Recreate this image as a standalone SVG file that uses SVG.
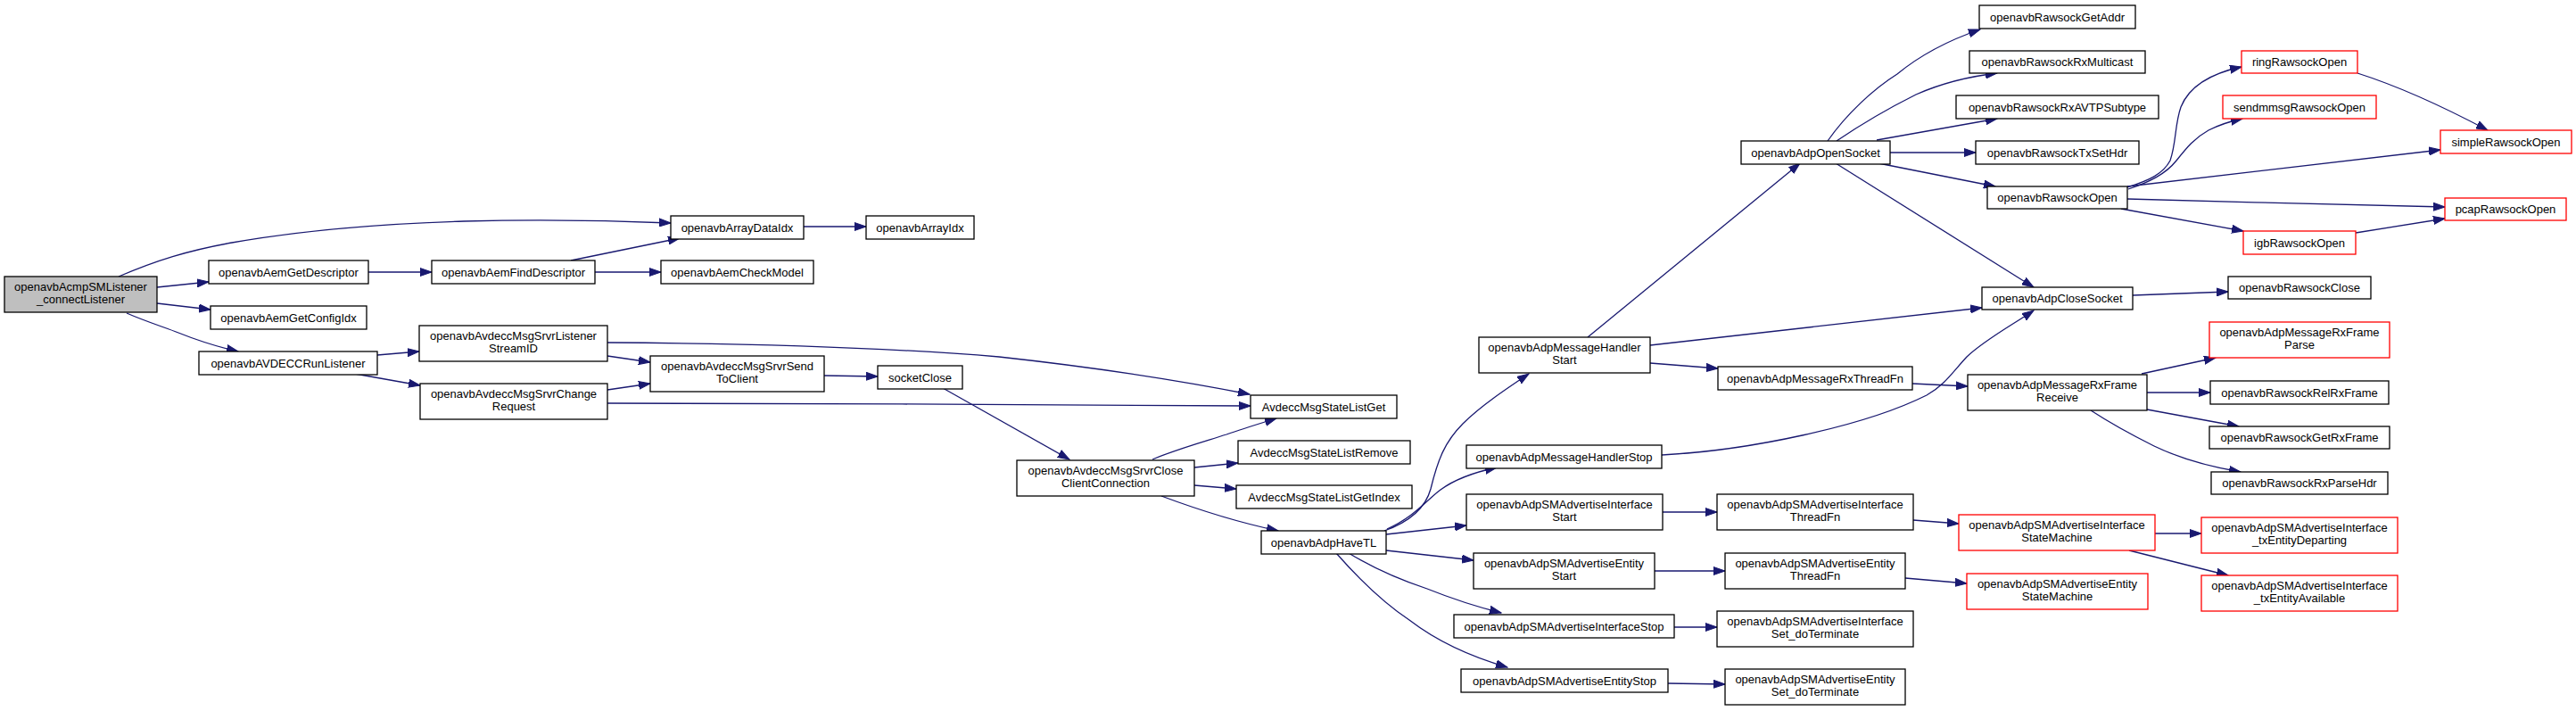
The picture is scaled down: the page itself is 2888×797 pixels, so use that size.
<svg xmlns="http://www.w3.org/2000/svg" width="2888" height="797" viewBox="0 0 2888 797">
<style>
.node rect{fill:#fff;stroke:#000;stroke-width:1.3}
.node.red rect{stroke:#ff0000}
.node.root rect{fill:#bfbfbf}
text{font-family:"Liberation Sans",Arial,sans-serif;font-size:13px;text-anchor:middle;fill:#000}
.edges path{fill:none;stroke:#191970;stroke-width:1.3;marker-end:url(#arr)}
</style>
<defs>
<marker id="arr" markerUnits="userSpaceOnUse" markerWidth="14" markerHeight="10" viewBox="0 0 14 10" refX="13" refY="5" orient="auto"><path d="M0,0.5 L13,5 L0,9.5 z" fill="#191970" stroke="#191970" stroke-width="1"/></marker>
</defs>
<rect width="2888" height="797" fill="#fff"/>
<g class="edges">
<path d="M133,310 C175,292 210,281 260,272 C340,258 420,251 520,248 C600,246 680,247 752,250"/>
<path d="M176,322 L234,316"/>
<path d="M176,340 L236,347"/>
<path d="M142,351 C165,361 185,367 200,373 C225,383 245,389 267,394"/>
<path d="M413,305 L484,305"/>
<path d="M640,292 L762,267"/>
<path d="M667,305 L741,305"/>
<path d="M901,254 L971,254"/>
<path d="M423,398 L470,394"/>
<path d="M398,419 L471,432"/>
<path d="M681,384 C850,385 1000,390 1120,400 C1230,412 1330,428 1401,442"/>
<path d="M681,399 L729,406"/>
<path d="M681,437 L729,430"/>
<path d="M681,452 C900,452 1200,454 1402,455"/>
<path d="M924,421 L984,422"/>
<path d="M1057,435 L1199,515"/>
<path d="M1292,515 C1320,503 1350,495 1375,487 C1395,480 1415,474 1431,469"/>
<path d="M1339,524 L1388,519"/>
<path d="M1339,544 L1386,548"/>
<path d="M1302,556 C1345,572 1390,586 1433,595"/>
<path d="M1552,595 C1580,585 1598,570 1604,548 C1612,515 1620,495 1640,475 C1660,455 1690,435 1714,419"/>
<path d="M1555,593 C1585,580 1600,560 1615,549 C1630,538 1650,530 1678,524"/>
<path d="M1554,599 L1644,589"/>
<path d="M1554,617 L1652,628"/>
<path d="M1512,620 C1540,637 1570,650 1600,660 C1625,670 1655,680 1683,687"/>
<path d="M1498,620 C1520,645 1550,675 1580,695 C1610,718 1645,735 1690,748"/>
<path d="M1780,378 L2018,183"/>
<path d="M1850,387 L2222,345"/>
<path d="M1850,407 L1926,413"/>
<path d="M1863,510 C1960,505 2090,478 2160,443 C2180,432 2190,416 2205,400 C2225,381 2255,365 2280,348"/>
<path d="M2049,158 C2070,128 2100,100 2127,83 C2155,60 2185,45 2220,33"/>
<path d="M2059,158 C2090,137 2120,120 2148,106 C2175,94 2205,86 2239,82"/>
<path d="M2104,157 L2239,133"/>
<path d="M2119,171 L2215,171"/>
<path d="M2106,183 L2237,209"/>
<path d="M2058,183 L2280,322"/>
<path d="M2385,210 C2410,202 2425,195 2433,180 C2440,160 2438,140 2445,120 C2455,95 2480,82 2513,75"/>
<path d="M2386,212 C2410,204 2428,195 2440,180 C2452,165 2460,155 2476,146 C2488,140 2500,136 2514,133"/>
<path d="M2385,209 L2736,168"/>
<path d="M2385,223 C2500,226 2640,230 2741,232"/>
<path d="M2378,234 L2515,259"/>
<path d="M2643,82 C2690,97 2740,120 2789,146"/>
<path d="M2641,261 L2741,245"/>
<path d="M2391,331 L2498,327"/>
<path d="M2144,430 L2206,433"/>
<path d="M2401,419 L2484,401"/>
<path d="M2407,440 L2478,440"/>
<path d="M2407,459 L2510,478"/>
<path d="M2344,460 C2370,477 2395,490 2415,500 C2440,512 2470,522 2512,529"/>
<path d="M1864,574 L1925,574"/>
<path d="M2145,583 L2196,587"/>
<path d="M1855,640 L1934,640"/>
<path d="M2136,648 L2205,654"/>
<path d="M2416,598 L2468,598"/>
<path d="M2387,617 L2498,645"/>
<path d="M1877,703 L1925,703"/>
<path d="M1870,766 L1934,767"/>
</g>
<g id="n1" class="node root"><rect x="5" y="310" width="171" height="40"/><text x="90.5" y="325.5">openavbAcmpSMListener</text><text x="90.5" y="340">_connectListener</text></g>
<g id="n2" class="node"><rect x="234" y="292" width="179" height="26"/><text x="323.5" y="309.5">openavbAemGetDescriptor</text></g>
<g id="n3" class="node"><rect x="236" y="343" width="175" height="26"/><text x="323.5" y="360.5">openavbAemGetConfigIdx</text></g>
<g id="n4" class="node"><rect x="223" y="394" width="200" height="26"/><text x="323" y="411.5">openavbAVDECCRunListener</text></g>
<g id="n5" class="node"><rect x="484" y="292" width="183" height="26"/><text x="575.5" y="309.5">openavbAemFindDescriptor</text></g>
<g id="n6" class="node"><rect x="470" y="365" width="211" height="40"/><text x="575.5" y="380.5">openavbAvdeccMsgSrvrListener</text><text x="575.5" y="395">StreamID</text></g>
<g id="n7" class="node"><rect x="471" y="430" width="210" height="40"/><text x="576" y="445.5">openavbAvdeccMsgSrvrChange</text><text x="576" y="460">Request</text></g>
<g id="n8" class="node"><rect x="752" y="242" width="149" height="26"/><text x="826.5" y="259.5">openavbArrayDataIdx</text></g>
<g id="n9" class="node"><rect x="741" y="292" width="171" height="26"/><text x="826.5" y="309.5">openavbAemCheckModel</text></g>
<g id="n10" class="node"><rect x="729" y="399" width="195" height="40"/><text x="826.5" y="414.5">openavbAvdeccMsgSrvrSend</text><text x="826.5" y="429">ToClient</text></g>
<g id="n11" class="node"><rect x="971" y="242" width="121" height="26"/><text x="1031.5" y="259.5">openavbArrayIdx</text></g>
<g id="n12" class="node"><rect x="984" y="410" width="95" height="26"/><text x="1031.5" y="427.5">socketClose</text></g>
<g id="n13" class="node"><rect x="1140" y="516" width="199" height="40"/><text x="1239.5" y="531.5">openavbAvdeccMsgSrvrClose</text><text x="1239.5" y="546">ClientConnection</text></g>
<g id="n14" class="node"><rect x="1402" y="443" width="164" height="26"/><text x="1484" y="460.5">AvdeccMsgStateListGet</text></g>
<g id="n15" class="node"><rect x="1388" y="494" width="193" height="26"/><text x="1484.5" y="511.5">AvdeccMsgStateListRemove</text></g>
<g id="n16" class="node"><rect x="1386" y="544" width="197" height="26"/><text x="1484.5" y="561.5">AvdeccMsgStateListGetIndex</text></g>
<g id="n17" class="node"><rect x="1414" y="595" width="140" height="26"/><text x="1484" y="612.5">openavbAdpHaveTL</text></g>
<g id="n18" class="node"><rect x="1658" y="378" width="192" height="40"/><text x="1754" y="393.5">openavbAdpMessageHandler</text><text x="1754" y="408">Start</text></g>
<g id="n19" class="node"><rect x="1644" y="499" width="219" height="26"/><text x="1753.5" y="516.5">openavbAdpMessageHandlerStop</text></g>
<g id="n20" class="node"><rect x="1644" y="554" width="220" height="40"/><text x="1754" y="569.5">openavbAdpSMAdvertiseInterface</text><text x="1754" y="584">Start</text></g>
<g id="n21" class="node"><rect x="1652" y="620" width="203" height="40"/><text x="1753.5" y="635.5">openavbAdpSMAdvertiseEntity</text><text x="1753.5" y="650">Start</text></g>
<g id="n22" class="node"><rect x="1630" y="689" width="247" height="26"/><text x="1753.5" y="706.5">openavbAdpSMAdvertiseInterfaceStop</text></g>
<g id="n23" class="node"><rect x="1638" y="750" width="232" height="26"/><text x="1754" y="767.5">openavbAdpSMAdvertiseEntityStop</text></g>
<g id="n24" class="node"><rect x="1952" y="158" width="167" height="26"/><text x="2035.5" y="175.5">openavbAdpOpenSocket</text></g>
<g id="n25" class="node"><rect x="1926" y="411" width="218" height="26"/><text x="2035" y="428.5">openavbAdpMessageRxThreadFn</text></g>
<g id="n26" class="node"><rect x="1925" y="554" width="220" height="40"/><text x="2035" y="569.5">openavbAdpSMAdvertiseInterface</text><text x="2035" y="584">ThreadFn</text></g>
<g id="n27" class="node"><rect x="1934" y="620" width="202" height="40"/><text x="2035" y="635.5">openavbAdpSMAdvertiseEntity</text><text x="2035" y="650">ThreadFn</text></g>
<g id="n28" class="node"><rect x="1925" y="685" width="220" height="40"/><text x="2035" y="700.5">openavbAdpSMAdvertiseInterface</text><text x="2035" y="715">Set_doTerminate</text></g>
<g id="n29" class="node"><rect x="1934" y="750" width="202" height="40"/><text x="2035" y="765.5">openavbAdpSMAdvertiseEntity</text><text x="2035" y="780">Set_doTerminate</text></g>
<g id="n30" class="node"><rect x="2219" y="6" width="175" height="26"/><text x="2306.5" y="23.5">openavbRawsockGetAddr</text></g>
<g id="n31" class="node"><rect x="2208" y="57" width="197" height="25"/><text x="2306.5" y="74">openavbRawsockRxMulticast</text></g>
<g id="n32" class="node"><rect x="2193" y="107" width="227" height="26"/><text x="2306.5" y="124.5">openavbRawsockRxAVTPSubtype</text></g>
<g id="n33" class="node"><rect x="2215" y="158" width="183" height="26"/><text x="2306.5" y="175.5">openavbRawsockTxSetHdr</text></g>
<g id="n34" class="node"><rect x="2228" y="209" width="157" height="25"/><text x="2306.5" y="226">openavbRawsockOpen</text></g>
<g id="n35" class="node"><rect x="2222" y="322" width="169" height="25"/><text x="2306.5" y="339">openavbAdpCloseSocket</text></g>
<g id="n36" class="node"><rect x="2206" y="420" width="201" height="40"/><text x="2306.5" y="435.5">openavbAdpMessageRxFrame</text><text x="2306.5" y="450">Receive</text></g>
<g id="n37" class="node red"><rect x="2196" y="577" width="220" height="40"/><text x="2306" y="592.5">openavbAdpSMAdvertiseInterface</text><text x="2306" y="607">StateMachine</text></g>
<g id="n38" class="node red"><rect x="2205" y="643" width="203" height="40"/><text x="2306.5" y="658.5">openavbAdpSMAdvertiseEntity</text><text x="2306.5" y="673">StateMachine</text></g>
<g id="n39" class="node red"><rect x="2513" y="57" width="130" height="25"/><text x="2578" y="74">ringRawsockOpen</text></g>
<g id="n40" class="node red"><rect x="2492" y="107" width="172" height="26"/><text x="2578" y="124.5">sendmmsgRawsockOpen</text></g>
<g id="n41" class="node red"><rect x="2515" y="259" width="126" height="26"/><text x="2578" y="276.5">igbRawsockOpen</text></g>
<g id="n42" class="node"><rect x="2498" y="310" width="160" height="25"/><text x="2578" y="327">openavbRawsockClose</text></g>
<g id="n43" class="node red"><rect x="2477" y="361" width="202" height="40"/><text x="2578" y="376.5">openavbAdpMessageRxFrame</text><text x="2578" y="391">Parse</text></g>
<g id="n44" class="node"><rect x="2478" y="427" width="200" height="26"/><text x="2578" y="444.5">openavbRawsockRelRxFrame</text></g>
<g id="n45" class="node"><rect x="2477" y="478" width="202" height="25"/><text x="2578" y="495">openavbRawsockGetRxFrame</text></g>
<g id="n46" class="node"><rect x="2479" y="529" width="198" height="25"/><text x="2578" y="546">openavbRawsockRxParseHdr</text></g>
<g id="n47" class="node red"><rect x="2468" y="580" width="220" height="40"/><text x="2578" y="595.5">openavbAdpSMAdvertiseInterface</text><text x="2578" y="610">_txEntityDeparting</text></g>
<g id="n48" class="node red"><rect x="2468" y="645" width="220" height="40"/><text x="2578" y="660.5">openavbAdpSMAdvertiseInterface</text><text x="2578" y="675">_txEntityAvailable</text></g>
<g id="n49" class="node red"><rect x="2736" y="146" width="147" height="26"/><text x="2809.5" y="163.5">simpleRawsockOpen</text></g>
<g id="n50" class="node red"><rect x="2741" y="222" width="136" height="25"/><text x="2809" y="239">pcapRawsockOpen</text></g>
</svg>
